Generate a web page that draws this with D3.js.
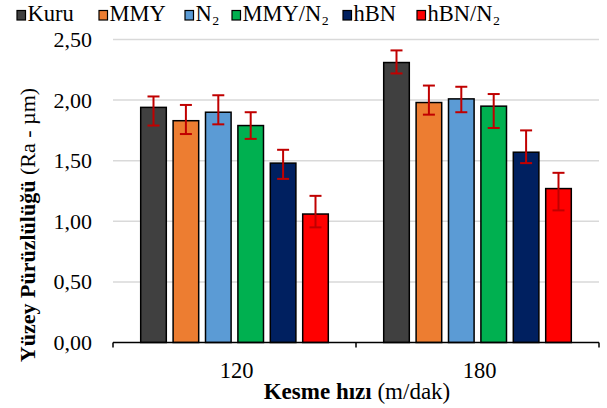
<!DOCTYPE html>
<html><head><meta charset="utf-8">
<script src="https://cdn.jsdelivr.net/npm/d3@7/dist/d3.min.js"></script>
<style>body{margin:0;background:#fff}svg{display:block}text{font-family:'Liberation Serif','Times New Roman','DejaVu Serif',serif}</style>
</head><body>
<script>
const categories = ["120", "180"];
const seriesNames = ["Kuru", "MMY", "N₂", "MMY/N₂", "hBN", "hBN/N₂"];
const seriesColors = ["#404040", "#ed7d31", "#5b9bd5", "#00b050", "#002060", "#ff0000"];
const values = [
  [1.94, 2.31],
  [1.83, 1.98],
  [1.90, 2.01],
  [1.79, 1.95],
  [1.48, 1.57],
  [1.06, 1.27]
];
const errLow = [
  [1.79, 2.22],
  [1.72, 1.88],
  [1.80, 1.90],
  [1.68, 1.77],
  [1.35, 1.48],
  [0.95, 1.09]
];
const errHigh = [
  [2.03, 2.41],
  [1.96, 2.12],
  [2.04, 2.11],
  [1.90, 2.05],
  [1.59, 1.75],
  [1.21, 1.40]
];
const yTicks = [0, 0.5, 1.0, 1.5, 2.0, 2.5];

(function () {
const W = 607, H = 408;
const svg = d3.select("body").append("svg").attr("width", W).attr("height", H);
const pLeft = 113, pRight = 599, pTop = 39.5, pBottom = 342.5;

const x0 = d3.scaleBand().domain(categories).range([pLeft, pRight]).padding(0);
const x1 = d3.scaleBand().domain(d3.range(seriesNames.length))
  .range([x0.bandwidth() * 0.1, x0.bandwidth() * 0.9]).paddingInner(0.21).paddingOuter(0.105);
const y = d3.scaleLinear().domain([0, 2.5]).range([pBottom, pTop]);
const fmt = v => d3.format(".2f")(v).replace(".", ",");

svg.append("g").selectAll("line").data(yTicks.filter(t => t > 0)).join("line")
  .attr("x1", pLeft).attr("x2", pRight)
  .attr("y1", d => y(d)).attr("y2", d => y(d))
  .attr("stroke", "#d9d9d9").attr("stroke-width", 1.5);

svg.append("g").selectAll("text").data(yTicks).join("text")
  .attr("x", 92).attr("y", d => y(d) + 7.5)
  .attr("text-anchor", "end")
  .attr("font-size", 22).attr("fill", "#000")
  .text(fmt);

const groups = svg.append("g").selectAll("g").data(categories).join("g")
  .attr("transform", d => `translate(${x0(d)},0)`);
groups.each(function(cat, ci) {
  const g = d3.select(this);
  seriesNames.forEach((s, si) => {
    const v = values[si][ci];
    g.append("rect")
      .attr("x", x1(si)).attr("width", x1.bandwidth())
      .attr("y", y(v)).attr("height", y(0) - y(v))
      .attr("fill", seriesColors[si]).attr("stroke", "#000").attr("stroke-width", 1.5);
  });
  seriesNames.forEach((s, si) => {
    const cx = x1(si) + x1.bandwidth() / 2;
    const lo = y(errLow[si][ci]), hi = y(errHigh[si][ci]);
    const eb = g.append("g").attr("stroke", "#c00000").attr("stroke-width", 2);
    eb.append("line").attr("x1", cx).attr("x2", cx).attr("y1", lo).attr("y2", hi);
    eb.append("line").attr("x1", cx - 6).attr("x2", cx + 6).attr("y1", lo).attr("y2", lo);
    eb.append("line").attr("x1", cx - 6).attr("x2", cx + 6).attr("y1", hi).attr("y2", hi);
  });
});

const ax = svg.append("g").attr("stroke", "#000").attr("stroke-width", 1.5);
ax.append("line").attr("x1", pLeft).attr("x2", pRight).attr("y1", pBottom).attr("y2", pBottom);
const tickXs = [pLeft, ...categories.map(c => x0(c) + x0.bandwidth())];
ax.selectAll(".tk").data(tickXs).join("line").attr("class", "tk")
  .attr("x1", d => d).attr("x2", d => d).attr("y1", pBottom).attr("y2", pBottom + 5);

svg.append("g").selectAll("text").data(categories).join("text")
  .attr("x", d => x0(d) + x0.bandwidth() / 2 + 2).attr("y", 378)
  .attr("text-anchor", "middle")
  .attr("font-size", 22.5).text(d => d);

const xt = svg.append("text").attr("x", 357).attr("y", 399).attr("text-anchor", "middle")
  .attr("font-size", 23);
xt.append("tspan").attr("font-weight", "bold").text("Kesme hızı");
xt.append("tspan").text(" (m/dak)");

const yt = svg.append("text").attr("transform", "translate(35,225) rotate(-90)")
  .attr("text-anchor", "middle").attr("font-size", 22);
yt.append("tspan").attr("font-weight", "bold").text("Yüzey Pürüzlülüğü");
yt.append("tspan").text(" (Ra - µm)");

const legX = [17, 99, 185, 232, 343, 417];
const leg = svg.append("g");
seriesNames.forEach((s, i) => {
  leg.append("rect").attr("x", legX[i]).attr("y", 10.5).attr("width", 8.5).attr("height", 9.5)
    .attr("fill", seriesColors[i]).attr("stroke", "#000").attr("stroke-width", 1.2);
  leg.append("text").attr("x", legX[i] + 10.5).attr("y", 21)
    .attr("font-size", 22.5)
    .text(s);
});
})();
</script>
</body></html>
